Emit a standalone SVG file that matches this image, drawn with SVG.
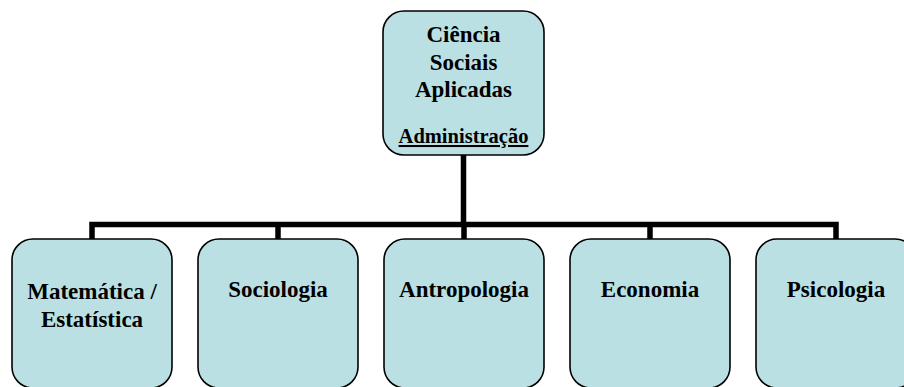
<svg xmlns="http://www.w3.org/2000/svg" width="904" height="387" viewBox="0 0 904 387">
<style>
.box{fill:#bbe0e3;stroke:#000;stroke-width:1.6}
.t{font-family:"Liberation Serif","Times New Roman",serif;font-weight:bold;font-size:23px;fill:#000;text-anchor:middle}
.conn{fill:none;stroke:#000;stroke-width:5.5;stroke-linejoin:miter;stroke-linecap:butt}
</style>
<rect width="904" height="387" fill="#fff"/>
<g id="connectors">
<path class="conn" d="M463.5 155 V224.5 M92 239 V224.5 H836 V239 M278 224.5 V239 M464 224.5 V239 M650 224.5 V239"/>
</g>
<g id="root">
<rect class="box" x="383" y="11" width="161" height="144" rx="21"/>
<text class="t" x="463.5" y="42">Ciência</text>
<text class="t" x="463.5" y="70">Sociais</text>
<text class="t" x="463.5" y="97">Aplicadas</text>
<text class="t" x="463.5" y="143" style="font-size:20.5px;text-decoration:underline">Administração</text>
</g>
<g id="matematica">
<rect class="box" x="12" y="239" width="160" height="149" rx="21"/>
<text class="t" x="92" y="299">Matemática /</text>
<text class="t" x="92" y="327">Estatística</text>
</g>
<g id="sociologia">
<rect class="box" x="198" y="239" width="160" height="149" rx="21"/>
<text class="t" x="278" y="297">Sociologia</text>
</g>
<g id="antropologia">
<rect class="box" x="384" y="239" width="160" height="149" rx="21"/>
<text class="t" x="464" y="297">Antropologia</text>
</g>
<g id="economia">
<rect class="box" x="570" y="239" width="160" height="149" rx="21"/>
<text class="t" x="650" y="297">Economia</text>
</g>
<g id="psicologia">
<rect class="box" x="756" y="239" width="160" height="149" rx="21"/>
<text class="t" x="836" y="297">Psicologia</text>
</g>
</svg>
